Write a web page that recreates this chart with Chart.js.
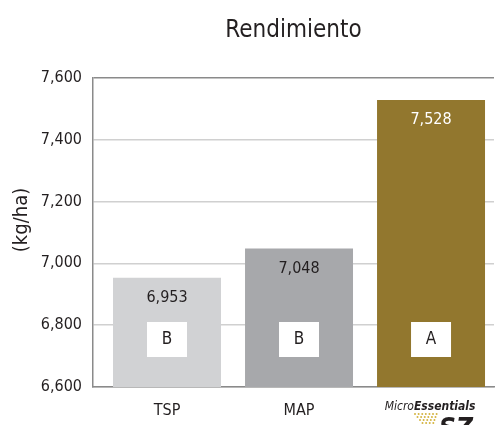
<!DOCTYPE html>
<html>
<head>
<meta charset="utf-8">
<script src="https://cdn.jsdelivr.net/npm/chart.js@4"></script>
<style>
  html, body { margin: 0; padding: 0; background: #fff; }
  #wrap { width: 495px; height: 425px; }
</style>
</head>
<body>
<div id="wrap"><canvas id="chart"></canvas></div>
<script>
// chart data
const categories = ['TSP', 'MAP', 'MicroEssentials SZ'];
const yieldValues = [6953, 7048, 7528];
const letters = ['B', 'B', 'A'];
const barColors = ['#d1d2d4', '#a7a8ab', '#92772e'];
const valueColors = ['#231f20', '#231f20', '#ffffff'];
const yTicks = [6600, 6800, 7000, 7200, 7400, 7600];

const FONT = "'Liberation Sans Narrow', 'DejaVu Sans Condensed', sans-serif";
const fmt = v => v.toLocaleString('en-US');

// values + letter boxes inside the bars, y title, SZ logo
const barLabels = {
    id: 'barLabels',
    afterDatasetsDraw(chart) {
        const ctx = chart.ctx;
        const meta = chart.getDatasetMeta(0);
        const yScale = chart.scales.y;
        ctx.save();
        ctx.textAlign = 'center';
        ctx.textBaseline = 'middle';
        meta.data.forEach((bar, i) => {
            ctx.font = '16px ' + FONT;
            ctx.fillStyle = valueColors[i];
            ctx.fillText(fmt(yieldValues[i]), bar.x, bar.y + 20);

            const boxBottom = yScale.bottom - 30;
            ctx.fillStyle = '#fff';
            ctx.fillRect(bar.x - 20, boxBottom - 35, 40, 35);
            ctx.fillStyle = '#231f20';
            ctx.font = '17px ' + FONT;
            ctx.fillText(letters[i], bar.x, boxBottom - 17);
        });
        ctx.restore();
    },
    afterDraw(chart) {
        const ctx = chart.ctx;
        ctx.save();
        // y axis title
        ctx.translate(22, 220);
        ctx.rotate(-Math.PI / 2);
        ctx.textAlign = 'center';
        ctx.textBaseline = 'middle';
        ctx.fillStyle = '#231f20';
        ctx.font = '20px ' + FONT;
        ctx.fillText('(kg/ha)', 0, 0);
        ctx.restore();

        // MicroEssentials SZ logo under the third bar
        const x = chart.scales.x.getPixelForValue(2);
        ctx.save();
        ctx.textBaseline = 'alphabetic';
        ctx.fillStyle = '#231f20';
        ctx.font = 'italic 12px ' + FONT;
        const w1 = ctx.measureText('Micro').width;
        ctx.font = 'italic bold 12px ' + FONT;
        const w2 = ctx.measureText('Essentials').width;
        const sx = x - (w1 + w2) / 2 - 1;
        ctx.font = 'italic 12px ' + FONT;
        ctx.fillText('Micro', sx, 410);
        ctx.font = 'italic bold 12px ' + FONT;
        ctx.fillText('Essentials', sx + w1, 410);
        ctx.font = 'italic bold 26px ' + FONT;
        ctx.fillText('SZ', x + 8, 437);
        ctx.fillStyle = '#d4b440';
        for (let r = 0; r < 4; r++) {
            for (let c = 0; c < 7 - r; c++) {
                ctx.beginPath();
                ctx.arc(x - 16 + c * 3.6 + r * 2.5, 414 + r * 3, 1, 0, Math.PI * 2);
                ctx.fill();
            }
        }
        ctx.restore();
    }
};

const ctx = document.getElementById('chart').getContext('2d');
const chart = new Chart(ctx, {
    type: 'bar',
    data: {
        datasets: [{
            data: categories.map((c, i) => ({ x: i, y: yieldValues[i] })),
            backgroundColor: barColors,
            borderWidth: 0,
            barPercentage: 0.818,
            categoryPercentage: 1
        }]
    },
    options: {
        responsive: true,
        maintainAspectRatio: false,
        animation: false,
        layout: { padding: { left: 0, right: 1, top: 0, bottom: 0 } },
        plugins: {
            legend: { display: false },
            tooltip: { enabled: false },
            title: {
                display: true,
                fullSize: false,
                text: 'Rendimiento',
                color: '#231f20',
                font: { family: FONT, size: 24, weight: 'normal', lineHeight: 1.2 },
                padding: { top: 16, bottom: 33 }
            }
        },
        scales: {
            x: {
                type: 'linear',
                offset: false,
                min: -0.5606,
                max: 2.477,
                afterBuildTicks: scale => {
                    scale.ticks = categories.map((c, i) => ({ value: i }));
                },
                afterFit: scale => { scale.height = 38; },
                grid: { display: false, drawTicks: false },
                border: { color: '#8a8a8a', width: 1.5 },
                ticks: {
                    padding: 14,
                    color: '#231f20',
                    font: { family: FONT, size: 16 },
                    callback: v => (v === 2 ? '' : categories[v])
                }
            },
            y: {
                min: yTicks[0],
                max: yTicks[yTicks.length - 1],
                afterBuildTicks: scale => {
                    scale.ticks = yTicks.map(v => ({ value: v }));
                },
                afterFit: scale => { scale.width = 93; },
                grid: {
                    drawTicks: false,
                    color: c => (c.tick && c.tick.value === yTicks[yTicks.length - 1] ? '#8a8a8a' : '#d0d0d0'),
                    lineWidth: 1.5
                },
                border: { color: '#8a8a8a', width: 1.5 },
                ticks: {
                    padding: 11,
                    color: '#231f20',
                    font: { family: FONT, size: 16 },
                    callback: v => fmt(v)
                }
            }
        }
    },
    plugins: [barLabels]
});
</script>
</body>
</html>
